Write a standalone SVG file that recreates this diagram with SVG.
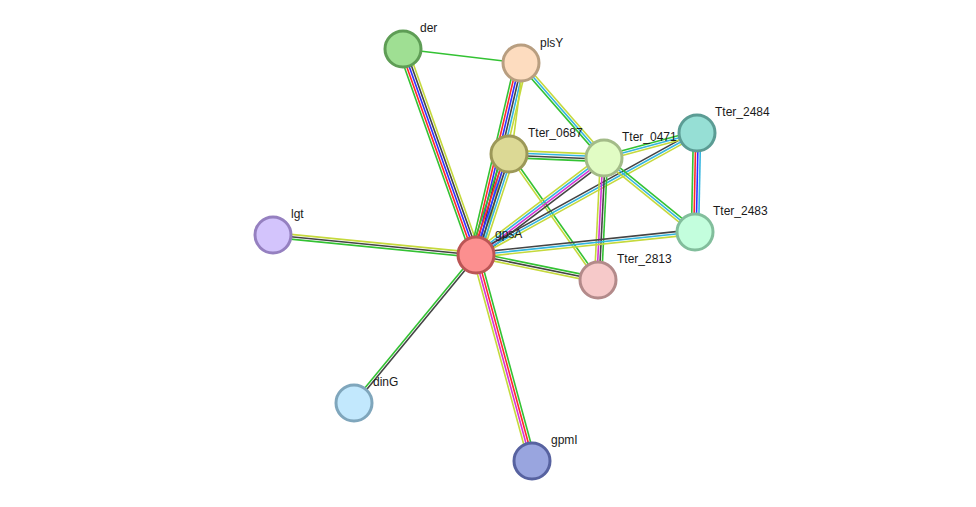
<svg xmlns="http://www.w3.org/2000/svg" width="976" height="507" viewBox="0 0 976 507">
<style>
line{stroke-width:1.6;fill:none}
.g{stroke:#33c233}.r{stroke:#ff2a2a}.b{stroke:#2f2fff}.k{stroke:#444}.m{stroke:#d535d5}.c{stroke:#33b5e0}.y{stroke:#c5d93c}
circle{stroke-width:3}
text{font-family:"Liberation Sans",Arial,sans-serif;font-size:12px;fill:#1a1a1a}
</style>
<rect width="976" height="507" fill="#fff"/>
<g id="connectors">
<g transform="translate(403,49) rotate(6.77)"><line class="g" x1="0" y1="0" x2="118.8" y2="0"/></g>
<g transform="translate(403,49) rotate(70.49)"><line class="g" x1="0" y1="4.8" x2="218.6" y2="4.8"/><line class="r" x1="0" y1="2.4" x2="218.6" y2="2.4"/><line class="b" x1="0" y1="0" x2="218.6" y2="0"/><line class="k" x1="0" y1="-2.4" x2="218.6" y2="-2.4"/><line class="y" x1="0" y1="-4.8" x2="218.6" y2="-4.8"/></g>
<g transform="translate(521,63) rotate(103.19)"><line class="g" x1="0" y1="6" x2="197.2" y2="6"/><line class="r" x1="0" y1="3.6" x2="197.2" y2="3.6"/><line class="b" x1="0" y1="1.2" x2="197.2" y2="1.2"/><line class="k" x1="0" y1="-1.2" x2="197.2" y2="-1.2"/><line class="c" x1="0" y1="-3.6" x2="197.2" y2="-3.6"/><line class="y" x1="0" y1="-6" x2="197.2" y2="-6"/></g>
<g transform="translate(521,63) rotate(97.51)"><line class="y" x1="0" y1="-2.4" x2="91.8" y2="-2.4"/></g>
<g transform="translate(509,154) rotate(108.09)"><line class="g" x1="0" y1="6" x2="106.3" y2="6"/><line class="r" x1="0" y1="3.6" x2="106.3" y2="3.6"/><line class="b" x1="0" y1="1.2" x2="106.3" y2="1.2"/><line class="k" x1="0" y1="-1.2" x2="106.3" y2="-1.2"/><line class="c" x1="0" y1="-3.6" x2="106.3" y2="-3.6"/><line class="y" x1="0" y1="-6" x2="106.3" y2="-6"/></g>
<g transform="translate(521,63) rotate(48.86)"><line class="g" x1="0" y1="2.4" x2="126.2" y2="2.4"/><line class="c" x1="0" y1="0" x2="126.2" y2="0"/><line class="y" x1="0" y1="-2.4" x2="126.2" y2="-2.4"/></g>
<g transform="translate(509,154) rotate(2.41)"><line class="y" x1="0" y1="-3.6" x2="95.1" y2="-3.6"/><line class="c" x1="0" y1="-1.2" x2="95.1" y2="-1.2"/><line class="k" x1="0" y1="1.2" x2="95.1" y2="1.2"/><line class="g" x1="0" y1="3.6" x2="95.1" y2="3.6"/></g>
<g transform="translate(509,154) rotate(54.77)"><line class="y" x1="0" y1="1.2" x2="154.3" y2="1.2"/><line class="g" x1="0" y1="-1.2" x2="154.3" y2="-1.2"/></g>
<g transform="translate(604,158) rotate(142.84)"><line class="y" x1="0" y1="3.6" x2="160.6" y2="3.6"/><line class="c" x1="0" y1="1.2" x2="160.6" y2="1.2"/><line class="m" x1="0" y1="-1.2" x2="160.6" y2="-1.2"/><line class="k" x1="0" y1="-3.6" x2="160.6" y2="-3.6"/></g>
<g transform="translate(697,133) rotate(151.10)"><line class="k" x1="0" y1="2.4" x2="252.4" y2="2.4"/><line class="c" x1="0" y1="0" x2="252.4" y2="0"/><line class="y" x1="0" y1="-2.4" x2="252.4" y2="-2.4"/></g>
<g transform="translate(604,158) rotate(-15.05)"><line class="g" x1="0" y1="-2.4" x2="96.3" y2="-2.4"/><line class="c" x1="0" y1="0" x2="96.3" y2="0"/><line class="y" x1="0" y1="2.4" x2="96.3" y2="2.4"/></g>
<g transform="translate(604,158) rotate(92.82)"><line class="y" x1="0" y1="3.6" x2="122.1" y2="3.6"/><line class="m" x1="0" y1="1.2" x2="122.1" y2="1.2"/><line class="k" x1="0" y1="-1.2" x2="122.1" y2="-1.2"/><line class="g" x1="0" y1="-3.6" x2="122.1" y2="-3.6"/></g>
<g transform="translate(604,158) rotate(39.12)"><line class="g" x1="0" y1="-2.4" x2="117.3" y2="-2.4"/><line class="c" x1="0" y1="0" x2="117.3" y2="0"/><line class="y" x1="0" y1="2.4" x2="117.3" y2="2.4"/></g>
<g transform="translate(697,133) rotate(91.16)"><line class="g" x1="0" y1="3.6" x2="99" y2="3.6"/><line class="r" x1="0" y1="1.2" x2="99" y2="1.2"/><line class="b" x1="0" y1="-1.2" x2="99" y2="-1.2"/><line class="c" x1="0" y1="-3.6" x2="99" y2="-3.6"/></g>
<g transform="translate(695,232) rotate(174.0)"><line class="k" x1="0" y1="2.4" x2="220.2" y2="2.4"/><line class="c" x1="0" y1="0" x2="220.2" y2="0"/><line class="y" x1="0" y1="-2.4" x2="220.2" y2="-2.4"/></g>
<g transform="translate(598,280) rotate(191.58)"><line class="g" x1="0" y1="2.4" x2="124.5" y2="2.4"/><line class="k" x1="0" y1="0" x2="124.5" y2="0"/><line class="y" x1="0" y1="-2.4" x2="124.5" y2="-2.4"/></g>
<g transform="translate(273,235) rotate(5.63)"><line class="y" x1="0" y1="-2.4" x2="204" y2="-2.4"/><line class="k" x1="0" y1="0" x2="204" y2="0"/><line class="g" x1="0" y1="2.4" x2="204" y2="2.4"/></g>
<g transform="translate(354,403) rotate(-50.50)"><line class="g" x1="0" y1="-1.2" x2="191.8" y2="-1.2"/><line class="k" x1="0" y1="1.2" x2="191.8" y2="1.2"/></g>
<g transform="translate(532,461) rotate(-105.21)"><line class="y" x1="0" y1="-3.6" x2="213.5" y2="-3.6"/><line class="m" x1="0" y1="-1.2" x2="213.5" y2="-1.2"/><line class="r" x1="0" y1="1.2" x2="213.5" y2="1.2"/><line class="g" x1="0" y1="3.6" x2="213.5" y2="3.6"/></g>
</g>
<g id="der"><circle cx="403" cy="49" r="18" fill="#9fdf93" stroke="#5e9d55"/><text x="420" y="32">der</text></g>
<g id="plsY"><circle cx="521" cy="63" r="18" fill="#fddcbf" stroke="#b89e80"/><text x="540" y="47">plsY</text></g>
<g id="Tter_0687"><circle cx="509" cy="154" r="18" fill="#dcd995" stroke="#9c9858"/><text x="528" y="137">Tter_0687</text></g>
<g id="Tter_0471"><circle cx="604" cy="158" r="18" fill="#e1fcc4" stroke="#a3bb88"/><text x="622" y="141">Tter_0471</text></g>
<g id="Tter_2484"><circle cx="697" cy="133" r="18" fill="#96dfd5" stroke="#5b9c94"/><text x="715" y="116">Tter_2484</text></g>
<g id="Tter_2483"><circle cx="695" cy="232" r="18" fill="#c3fedd" stroke="#82be9c"/><text x="713" y="215">Tter_2483</text></g>
<g id="gpsA"><circle cx="476" cy="255" r="18" fill="#fc8f8f" stroke="#bb5555"/><text x="495" y="238">gpsA</text></g>
<g id="Tter_2813"><circle cx="598" cy="280" r="18" fill="#f6c9c9" stroke="#b38a8a"/><text x="617" y="263">Tter_2813</text></g>
<g id="lgt"><circle cx="273" cy="235" r="18" fill="#d3c4fc" stroke="#9580c0"/><text x="291" y="218">lgt</text></g>
<g id="dinG"><circle cx="354" cy="403" r="18" fill="#c2e8fd" stroke="#7fa6bc"/><text x="373" y="386">dinG</text></g>
<g id="gpmI"><circle cx="532" cy="461" r="18" fill="#99a5df" stroke="#5762a0"/><text x="551" y="444">gpmI</text></g>
</svg>
